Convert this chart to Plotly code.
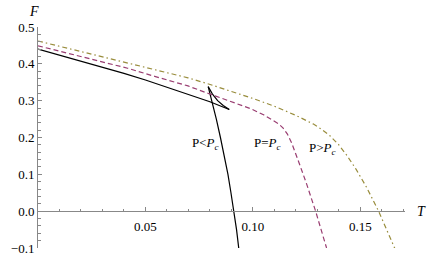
import plotly.graph_objects as go

# Black curve (P < Pc): three branches of the swallowtail
T_small = [0.0, 0.01, 0.02, 0.03, 0.04, 0.05, 0.06, 0.07, 0.08, 0.089]
F_small = [0.440, 0.424, 0.408, 0.391, 0.374, 0.356, 0.337, 0.317, 0.297, 0.276]
T_inter = [0.089, 0.0862, 0.0836, 0.0812, 0.0792]
F_inter = [0.276, 0.287, 0.300, 0.318, 0.338]
T_large = [0.0792, 0.0809, 0.0830, 0.0849, 0.0867, 0.0884, 0.0898, 0.0912, 0.0924, 0.0935]
F_large = [0.338, 0.300, 0.250, 0.200, 0.150, 0.100, 0.050, 0.0, -0.050, -0.104]

# Magenta dashed (P = Pc)
T_crit = [0.0, 0.02, 0.0417, 0.0543, 0.0698, 0.08, 0.09, 0.0991, 0.1052, 0.11,
          0.112, 0.114, 0.116, 0.118, 0.12, 0.122, 0.125, 0.1292, 0.1343]
F_crit = [0.449, 0.420, 0.388, 0.366, 0.340, 0.318, 0.297, 0.278, 0.261, 0.245,
          0.237, 0.226, 0.210, 0.186, 0.156, 0.123, 0.074, 0.0, -0.100]

# Olive dash-dot (P > Pc)
T_high = [0.0, 0.02, 0.0417, 0.0543, 0.0698, 0.079, 0.09, 0.10, 0.11, 0.12, 0.128,
          0.132, 0.136, 0.14, 0.1438, 0.148, 0.153, 0.1585, 0.1662]
F_high = [0.462, 0.433, 0.403, 0.384, 0.362, 0.346, 0.326, 0.306, 0.285, 0.260, 0.237,
          0.222, 0.204, 0.180, 0.151, 0.114, 0.064, 0.0, -0.103]

x_tick_vals = [0.05, 0.10, 0.15]
x_tick_text = ["0.05", "0.10", "0.15"]
y_tick_vals = [-0.1, 0.0, 0.1, 0.2, 0.3, 0.4, 0.5]
y_tick_text = ["\u22120.1", "0.0", "0.1", "0.2", "0.3", "0.4", "0.5"]

labels = ["P&lt;<i>P</i><sub><i>c</i></sub>", "P=<i>P</i><sub><i>c</i></sub>",
          "P&gt;<i>P</i><sub><i>c</i></sub>"]
label_T = [0.0778, 0.107, 0.1324]
label_F = [0.183, 0.183, 0.170]

BLACK = "#000000"
MAGENTA = "#993D71"
OLIVE = "#998D3D"
FONT = "Liberation Serif, Times New Roman, serif"
TICKFONT = dict(family=FONT, size=13, color="#000")

fig = go.Figure()
for tx, fy in [(T_small, F_small), (T_inter, F_inter), (T_large, F_large)]:
    fig.add_trace(go.Scatter(x=tx, y=fy, mode="lines",
                             line=dict(color=BLACK, width=1.2), showlegend=False))
fig.add_trace(go.Scatter(x=T_crit, y=F_crit, mode="lines",
                         line=dict(color=MAGENTA, width=1.2, dash="5px,3px"),
                         showlegend=False))
fig.add_trace(go.Scatter(x=T_high, y=F_high, mode="lines",
                         line=dict(color=OLIVE, width=1.2, dash="5px,3px,1.5px,3px"),
                         showlegend=False))

for txt, tx, fy in zip(labels, label_T, label_F):
    fig.add_annotation(x=tx, y=fy, text=txt, showarrow=False,
                       font=dict(family=FONT, size=13, color="#000"))

fig.add_annotation(xref="paper", yref="paper", x=1.0, y=1/6, xshift=16,
                   xanchor="center", yanchor="middle", text="<i>T</i>",
                   showarrow=False, font=dict(family=FONT, size=14, color="#000"))
fig.add_annotation(xref="paper", yref="paper", x=0.0, y=1.0, xshift=-4, yshift=16,
                   xanchor="center", yanchor="middle", text="<i>F</i>",
                   showarrow=False, font=dict(family=FONT, size=14, color="#000"))

fig.update_layout(
    width=429, height=267,
    margin=dict(l=36, r=24, t=27, b=11),
    paper_bgcolor="white", plot_bgcolor="white",
    font=dict(family=FONT, size=13, color="#000"),
    xaxis=dict(range=[0, 0.1708], showgrid=False, zeroline=False,
               showline=True, linecolor="#888", linewidth=1,
               anchor="free", position=1/6,
               ticks="inside", ticklen=4, tickcolor="#888",
               tickvals=x_tick_vals, ticktext=x_tick_text, tickfont=TICKFONT,
               minor=dict(ticks="inside", ticklen=2.5, tickcolor="#888",
                          tickvals=[0.01, 0.02, 0.03, 0.04, 0.06, 0.07, 0.08, 0.09,
                                    0.11, 0.12, 0.13, 0.14, 0.16, 0.17]),
               ticklabelstandoff=3),
    yaxis=dict(range=[-0.1, 0.5], showgrid=False, zeroline=False,
               showline=True, linecolor="#888", linewidth=1,
               ticks="inside", ticklen=4, tickcolor="#888",
               tickvals=y_tick_vals, ticktext=y_tick_text, tickfont=TICKFONT,
               minor=dict(ticks="inside", ticklen=2.5, tickcolor="#888",
                          tickvals=[-0.08, -0.06, -0.04, -0.02, 0.02, 0.04, 0.06, 0.08,
                                    0.12, 0.14, 0.16, 0.18, 0.22, 0.24, 0.26, 0.28,
                                    0.32, 0.34, 0.36, 0.38, 0.42, 0.44, 0.46, 0.48])),
)

# remove the default 8px page margin so the figure sits at the window's corner
fig.write_html("out.html",
               config={"displayModeBar": False},
               post_script="document.body.style.margin='0';"
                           "document.body.style.overflow='hidden';")
